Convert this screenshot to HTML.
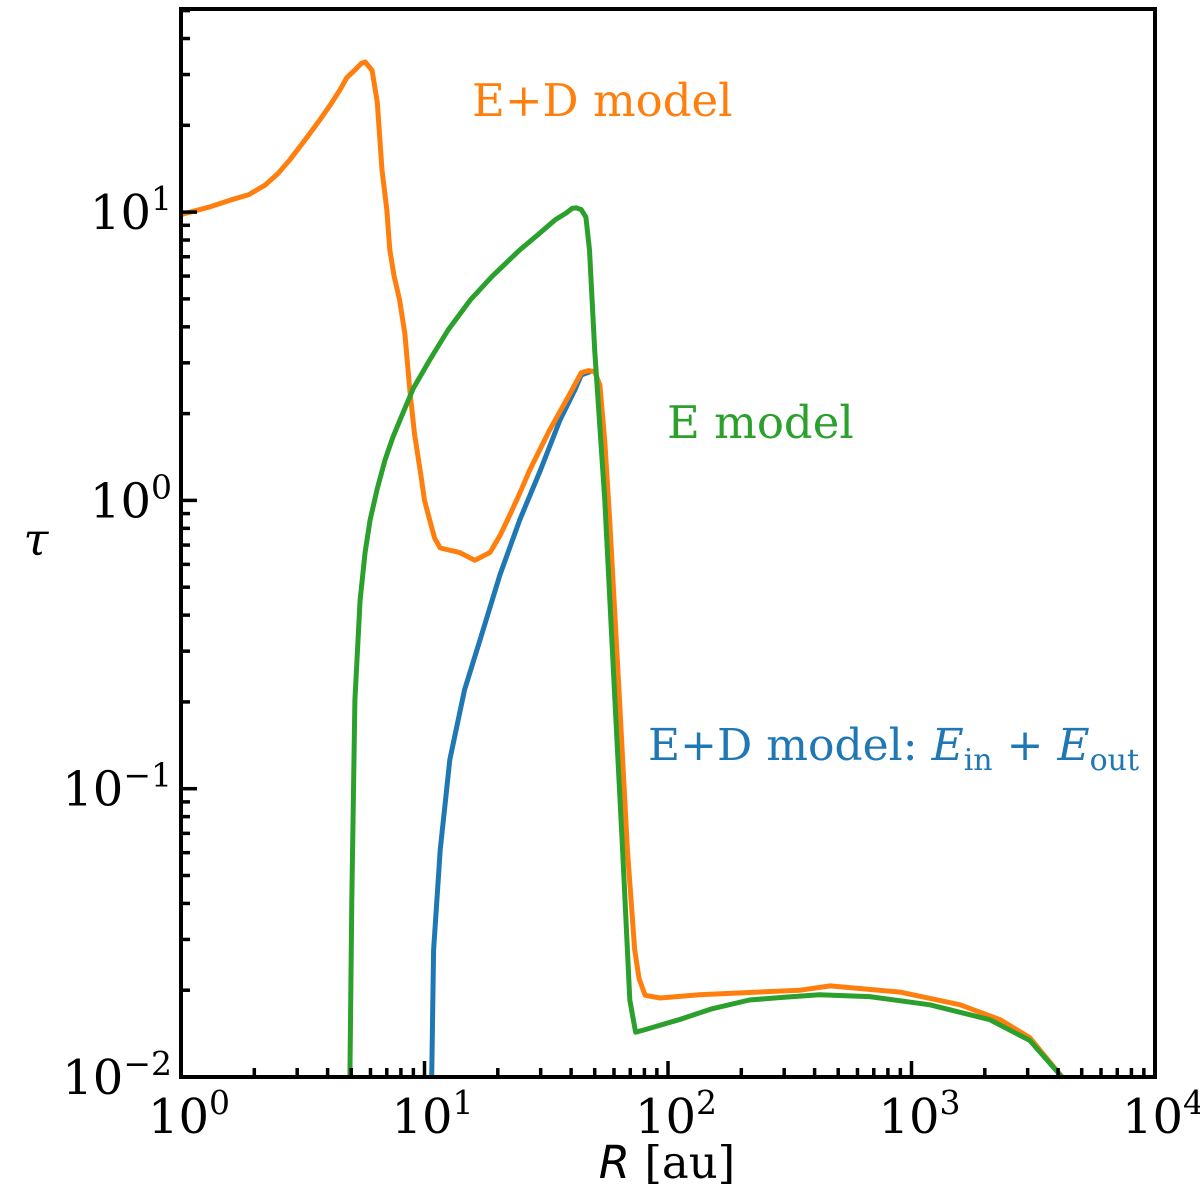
<!DOCTYPE html>
<html><head><meta charset="utf-8"><style>
html,body{margin:0;padding:0;background:#fff}
svg{display:block}
text{font-family:"DejaVu Serif","Liberation Serif",serif;}
</style></head><body>
<svg id="chart" width="1200" height="1194" viewBox="0 0 1200 1194" xmlns="http://www.w3.org/2000/svg">
<g id="marks"></g>
<g id="axes"></g>
<text x="472" y="116" font-size="45" fill="#ff7f0e">E+D model</text>
<text x="667" y="438" font-size="45" fill="#2ca02c">E model</text>
<text x="648" y="760" font-size="44" fill="#1f77b4">E+D model: <tspan font-style="italic">E</tspan><tspan font-size="30" dy="10">in</tspan><tspan dy="-10"> + </tspan><tspan font-style="italic">E</tspan><tspan font-size="30" dy="10">out</tspan></text>
<text x="667" y="1178" font-size="45" text-anchor="middle"><tspan font-style="italic" font-family="DejaVu Sans, sans-serif">R</tspan> [au]</text>
<text x="36" y="555" font-size="45" text-anchor="middle" font-style="italic">τ</text>
</svg>
<script>
const xTicks=[1,10,100,1000,10000];
const yTicks=[0.01,0.1,1,10];
const edR=[1,1.3,1.59,1.9,2.21,2.5,2.8,3.2,3.72,4.1,4.49,4.8,5.18,5.5,5.7,6.09,6.4,6.69,7.0,7.2,7.5,7.9,8.3,8.7,9.1,9.6,10.0,10.5,11.0,11.6,13.9,16.1,18.6,20.5,22.4,24.5,27,32.6,39.3,44,47,50,52.5,55,57.6,63.2,68.1,73,76,80.5,92.8,134.5,349,464,897,1583,2312,3057,4150];
const edTau=[9.8,10.4,11.0,11.5,12.4,13.6,15.2,17.6,20.9,23.5,26.5,29.3,31.1,32.8,33.2,31,24,14.0,10.2,7.4,6.0,4.95,3.8,2.42,1.7,1.27,1.0,0.855,0.74,0.684,0.66,0.62,0.66,0.76,0.89,1.05,1.27,1.75,2.32,2.77,2.82,2.8,2.51,1.6,0.855,0.203,0.0613,0.0276,0.022,0.0192,0.0188,0.0193,0.02,0.0207,0.0197,0.0178,0.0158,0.0137,0.01];
const eR=[4.94,5.03,5.18,5.44,5.7,5.98,6.4,6.88,7.4,7.93,9.0,10.5,12.5,15.4,19,24.6,29,34.4,38,40.4,42,44,46,47.6,50,55,60.5,65.1,69.7,73.6,80.5,111,150,216,300,418,672,1190,2096,3057,4150];
const eTau=[0.01,0.041,0.203,0.451,0.66,0.855,1.1,1.38,1.65,1.9,2.45,3.07,3.9,4.95,6.0,7.39,8.3,9.4,9.9,10.3,10.35,10.2,9.6,7.39,3.32,1.0,0.203,0.0613,0.0185,0.0143,0.0146,0.0158,0.0172,0.0185,0.0189,0.0193,0.019,0.0178,0.0158,0.0134,0.01];
const inoutR=[10.7,10.9,11.6,12.7,14.6,16.9,20.4,24.6,29.9,36,41.5,44,48];
const inoutTau=[0.01,0.0276,0.0613,0.126,0.22,0.328,0.551,0.855,1.27,1.9,2.42,2.72,2.8];

const X0=181,X1=1155,Y0=1077,Y1=9;
const xs=v=>X0+(Math.log10(v)-0)/4*(X1-X0);
const ys=v=>Y0-(Math.log10(v)+2)*288.3;
const NS="http://www.w3.org/2000/svg";
const marks=document.getElementById('marks'), axes=document.getElementById('axes');
function line(R,T,color,name){
  const p=document.createElementNS(NS,'polyline');
  p.setAttribute('points',R.map((r,i)=>xs(r).toFixed(1)+','+ys(Math.max(T[i],0.0099)).toFixed(1)).join(' '));
  p.setAttribute('fill','none');p.setAttribute('stroke',color);p.setAttribute('stroke-width','5');p.setAttribute('stroke-linejoin','round');
  
  
  marks.appendChild(p);
}
const cp=document.createElementNS(NS,'clipPath');cp.id='clip';
const cr=document.createElementNS(NS,'rect');cr.setAttribute('x',X0);cr.setAttribute('y',Y1);cr.setAttribute('width',X1-X0);cr.setAttribute('height',Y0-Y1);
cp.appendChild(cr);document.getElementById('chart').appendChild(cp);
marks.setAttribute('clip-path','url(#clip)');
line(inoutR,inoutTau,'#1f77b4','series-ed-ein-eout');
line(edR,edTau,'#ff7f0e','series-ed-model');
line(eR,eTau,'#2ca02c','series-e-model');

function seg(x1,y1,x2,y2,name){
  const l=document.createElementNS(NS,'line');
  l.setAttribute('x1',x1);l.setAttribute('y1',y1);l.setAttribute('x2',x2);l.setAttribute('y2',y2);
  l.setAttribute('stroke','#000');l.setAttribute('stroke-width','3.5');
  
  
  axes.appendChild(l);
}
function txt(x,y,base,exp,name,anchor){
  const t=document.createElementNS(NS,'text');
  t.setAttribute('x',x);t.setAttribute('y',y);t.setAttribute('font-size','48');t.setAttribute('text-anchor',anchor);
  t.innerHTML=base+'<tspan font-size="33" dy="-19">'+exp+'</tspan>';
  
  
  axes.appendChild(t);
}
xTicks.forEach(v=>{
  const x=xs(v);
  seg(x,Y0,x,Y0-16,'x-major-tick');
  txt(x+8,1133,'10',String(Math.round(Math.log10(v))),'x-tick-label','middle');
  if(v<10000) for(let k=2;k<=9;k++){const xm=xs(v*k);seg(xm,Y0,xm,Y0-9,'x-minor-tick');}
});
yTicks.forEach(v=>{
  const y=ys(v);
  seg(X0,y,X0+16,y,'y-major-tick');
  txt(172,y+17,'10',(v<1?'\u2212':'')+String(Math.abs(Math.round(Math.log10(v)))),'y-tick-label','end');
  for(let k=2;k<=9;k++){const ym=ys(v*k);if(ym>Y1)seg(X0,ym,X0+9,ym,'y-minor-tick');}
});
const fr=document.createElementNS(NS,'rect');
fr.setAttribute('x',X0);fr.setAttribute('y',Y1);fr.setAttribute('width',X1-X0);fr.setAttribute('height',Y0-Y1);
fr.setAttribute('fill','none');fr.setAttribute('stroke','#000');fr.setAttribute('stroke-width','4');


axes.appendChild(fr);
</script>
</body></html>
